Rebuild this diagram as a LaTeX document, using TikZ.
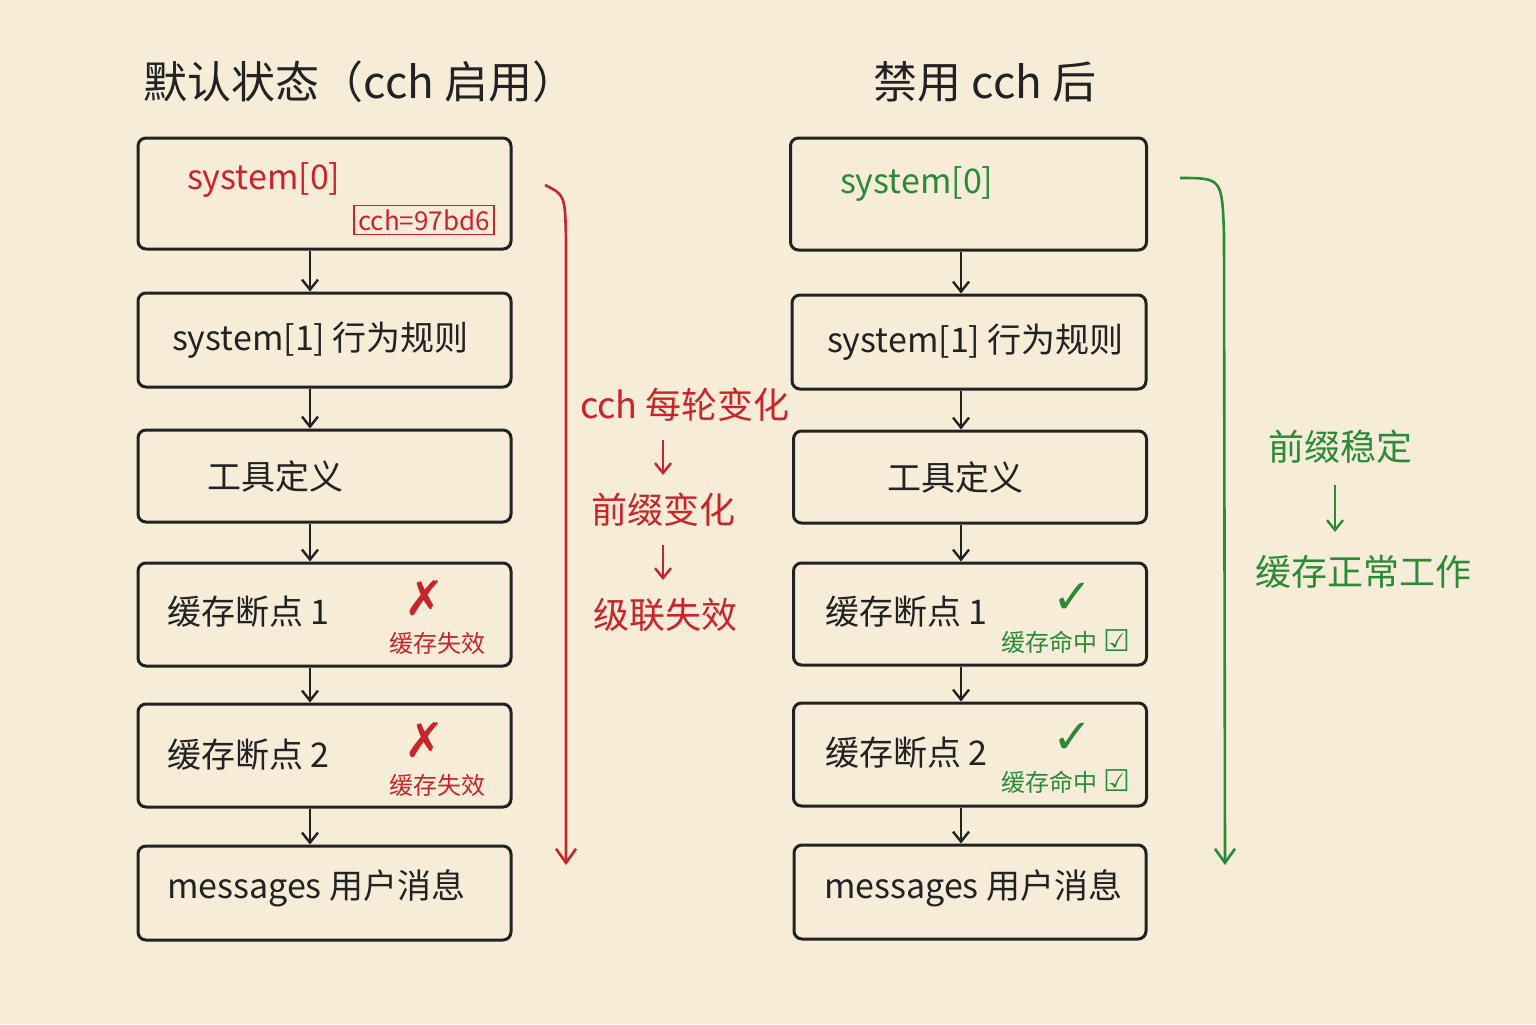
\documentclass[tikz,border=0pt]{standalone}
\usepackage{fontspec}
\setmainfont{Noto Sans CJK SC}
\newfontfamily\dvs{DejaVu Sans}
\usetikzlibrary{arrows.meta}
\definecolor{bg}{HTML}{F6ECD8}
\definecolor{rd}{HTML}{C8242A}
\definecolor{gn}{HTML}{2A8A36}
\definecolor{ink}{HTML}{222222}
\begin{document}
\begin{tikzpicture}[x=0.5pt,y=-0.5pt,
 box/.style={draw=ink,line width=1.5pt,rounded corners=4pt,inner sep=0pt},
 lt/.style={font=\fontsize{17}{17}\selectfont,text=ink},
 con/.style={draw=ink,line width=1.2pt,-{Straight Barb[length=5pt,width=8pt]}},
 small/.style={font=\fontsize{12}{12}\selectfont}]
\fill[bg] (0,0) rectangle (1536,1024);
\useasboundingbox (0,0) rectangle (1536,1024);
\node[lt,font=\fontsize{22}{22}\selectfont] (t1) at (360,82) {默认状态（cch 启用）};
\node[lt,font=\fontsize{22}{22}\selectfont] (t2) at (985,82) {禁用 cch 后};
% left
\node[box,minimum width=186.5pt,minimum height=55.5pt] (l0) at (324.5,193.5) {};
\node[box,minimum width=186.5pt,minimum height=47pt] (l1) at (324.5,340) {};
\node[box,minimum width=186.5pt,minimum height=46pt] (l2) at (324.5,476) {};
\node[box,minimum width=186.5pt,minimum height=51.5pt] (l3) at (324.5,614.5) {};
\node[box,minimum width=186.5pt,minimum height=51.5pt] (l4) at (324.5,755.5) {};
\node[box,minimum width=186.5pt,minimum height=47pt] (l5) at (324.5,893) {};
\node[lt,text=rd,anchor=west] (l0t) at (180,180) {system[0]};
\node[draw=rd,line width=0.9pt,text=rd,inner sep=2pt,font=\fontsize{13}{13}\selectfont] (l0c) at (424,220) {cch=97bd6};
\node[lt,anchor=west] (l1t) at (165,340) {system[1] 行为规则};
\node[lt,anchor=west] (l2t) at (200,476) {工具定义};
\node[lt,anchor=west] (l3t) at (160,612) {缓存断点 1};
\node[lt,anchor=west] (l4t) at (160,755) {缓存断点 2};
\node[lt,anchor=west] (l5t) at (160,888) {messages 用户消息};
\foreach \n/\y in {3/598,4/740}{
 \node[text=rd,font=\dvs\fontsize{24}{24}\selectfont] (lx\n) at (425,\y) {✗};
 \node[text=rd,small] (lf\n) at (437,\y+45) {缓存失效};}
\foreach \a/\b in {l0/l1,l1/l2,l2/l3,l3/l4,l4/l5}{\draw[con] (\a.south -| 310,0) -- (\b.north -| 310,0);}
% right
\node[box,minimum width=178pt,minimum height=56pt] (r0) at (968.5,194) {};
\node[box,minimum width=177pt,minimum height=47pt] (r1) at (969,342) {};
\node[box,minimum width=176.5pt,minimum height=46pt] (r2) at (970,477) {};
\node[box,minimum width=176.5pt,minimum height=51pt] (r3) at (970,614) {};
\node[box,minimum width=176.5pt,minimum height=51.5pt] (r4) at (970,754.5) {};
\node[box,minimum width=176pt,minimum height=47pt] (r5) at (970,892) {};
\node[lt,text=gn,anchor=west] (r0t) at (833,184) {system[0]};
\node[lt,anchor=west] (r1t) at (820,342) {system[1] 行为规则};
\node[lt,anchor=west] (r2t) at (880,477) {工具定义};
\node[lt,anchor=west] (r3t) at (818,612) {缓存断点 1};
\node[lt,anchor=west] (r4t) at (818,753) {缓存断点 2};
\node[lt,anchor=west] (r5t) at (817,888) {messages 用户消息};
\foreach \n/\y in {3/598,4/738}{
 \node[text=gn,font=\dvs\fontsize{24}{24}\selectfont] (rv\n) at (1073,\y) {✓};
 \node[text=gn,small] (rf\n) at (1066,\y+44) {缓存命中 {\dvs\fontsize{15}{15}\selectfont☑}};}
\foreach \a/\b in {r0/r1,r1/r2,r2/r3,r3/r4,r4/r5}{\draw[con] (\a.south -| 961,0) -- (\b.north -| 961,0);}
% side arrows
\coordinate (ra) at (545,185); \coordinate (rb) at (566,865);
\draw[rd,line width=1.3pt,-{Straight Barb[length=7pt,width=10pt]}] (ra) .. controls (565,195) .. (566,240) -- (rb);
\coordinate (ga) at (1180,178); \coordinate (gb) at (1225,865);
\draw[gn,line width=1.3pt,-{Straight Barb[length=7pt,width=10pt]}] (ga) .. controls (1222,178) .. (1224,235) -- (gb);
\node[text=rd,font=\fontsize{18}{18}\selectfont] (m1) at (685,405) {cch 每轮变化};
\node[text=rd,font=\fontsize{18}{18}\selectfont] (m2) at (663,510) {前缀变化};
\node[text=rd,font=\fontsize{18}{18}\selectfont] (m3) at (665,615) {级联失效};
\coordinate (a1) at (663,440); \coordinate (a2) at (663,475);
\coordinate (a3) at (663,545); \coordinate (a4) at (663,580);
\coordinate (a5) at (1335,485); \coordinate (a6) at (1335,532);
\draw[rd,line width=1.2pt,-{Straight Barb[length=5pt,width=8pt]}] (a1) -- (a2);
\draw[rd,line width=1.2pt,-{Straight Barb[length=5pt,width=8pt]}] (a3) -- (a4);
\node[text=gn,font=\fontsize{18}{18}\selectfont] (g1) at (1340,447) {前缀稳定};
\node[text=gn,font=\fontsize{18}{18}\selectfont] (g2) at (1363,572) {缓存正常工作};
\draw[gn,line width=1.2pt,-{Straight Barb[length=5pt,width=8pt]}] (a5) -- (a6);
\end{tikzpicture}
\end{document}
